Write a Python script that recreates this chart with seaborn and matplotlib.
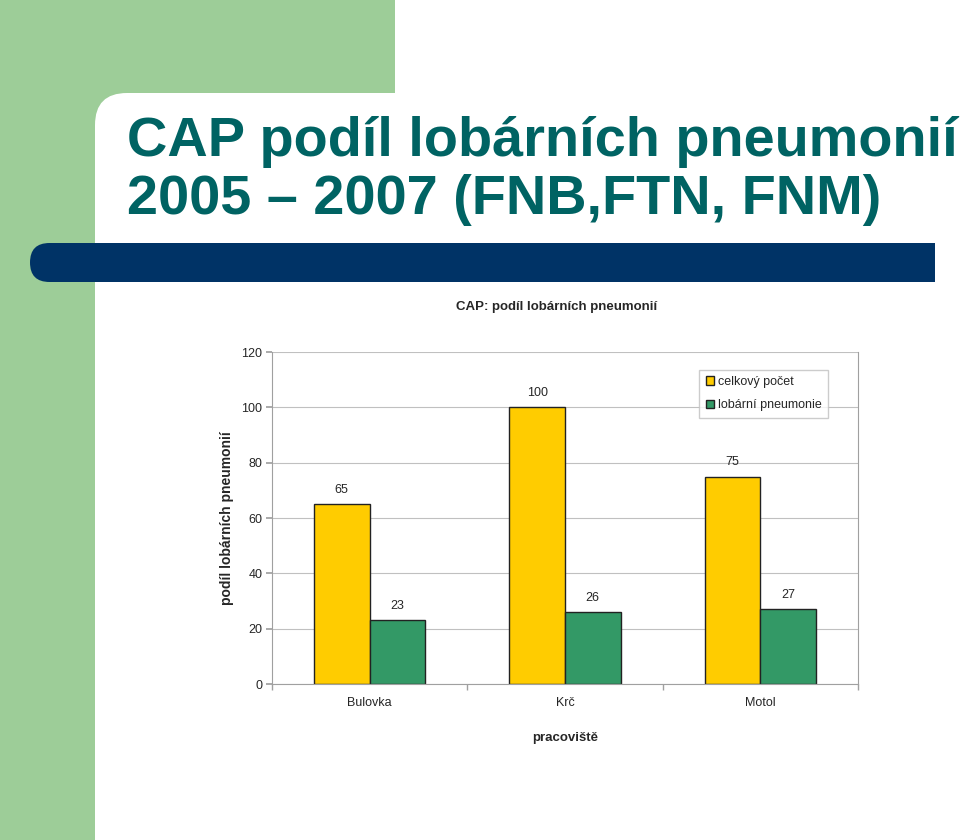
import matplotlib
matplotlib.use('Agg')
import matplotlib.pyplot as plt
from matplotlib.patches import Rectangle, FancyBboxPatch
import seaborn as sns
import pandas as pd

# data
pracoviste = ['Bulovka', 'Krč', 'Motol']
celkovy_pocet = [65, 100, 75]
lobarni = [23, 26, 27]
serie = ['celkový počet', 'lobární pneumonie']

df = pd.DataFrame({
    'pracoviště': pracoviste * 2,
    'počet': celkovy_pocet + lobarni,
    'série': [serie[0]] * 3 + [serie[1]] * 3,
})

sns.set_theme(style='white')
plt.rcParams['font.family'] = ['Liberation Sans', 'DejaVu Sans']

fig = plt.figure(figsize=(9.6, 8.4), dpi=100)

# slide background in pixel coordinates
bg = fig.add_axes([0, 0, 1, 1])
bg.set_xlim(0, 960)
bg.set_ylim(840, 0)
bg.axis('off')
green = '#9dcd98'
bg.add_patch(Rectangle((0, 0), 395, 140, color=green, lw=0))
bg.add_patch(Rectangle((0, 0), 95, 840, color=green, lw=0))
bg.add_patch(FancyBboxPatch((95, 93), 1000, 1000,
                            boxstyle='round,pad=0,rounding_size=32',
                            fc='white', ec='none'))
bg.add_patch(FancyBboxPatch((30, 243), 905, 39,
                            boxstyle='round,pad=0,rounding_size=19.5',
                            fc='#003366', ec='none'))
bg.add_patch(Rectangle((880, 243), 55, 39, color='#003366', lw=0))
bg.text(127, 156, 'CAP podíl lobárních pneumonií', fontsize=40.2,
        fontweight='bold', color='#006363', va='baseline', ha='left')
bg.text(127, 214, '2005 – 2007 (FNB,FTN, FNM)', fontsize=40.2,
        fontweight='bold', color='#006363', va='baseline', ha='left')
bg.text(557, 307, 'CAP: podíl lobárních pneumonií', fontsize=9.5,
        fontweight='bold', ha='center', va='center')

# chart
ax = fig.add_axes([0.2833, 0.1857, 0.6104, 0.3952])
sns.barplot(data=df, x='pracoviště', y='počet', hue='série',
            palette=['#ffcc00', '#339966'], saturation=1, width=0.57, gap=0,
            edgecolor='#222222', linewidth=1, ax=ax)

for c in ax.containers:
    ax.bar_label(c, padding=6, fontsize=9)

ax.set_ylim(0, 120)
ax.set_xlim(-0.5, 2.5)
ax.set_yticks(range(0, 121, 20))
ax.yaxis.grid(True, color='#c0c0c0', lw=0.8)
ax.set_axisbelow(True)
for s in ['left', 'bottom', 'right']:
    ax.spines[s].set_color('#a0a0a0')
    ax.spines[s].set_linewidth(0.8)
ax.spines['top'].set_visible(False)
ax.tick_params(axis='y', direction='out', length=4, color='#a0a0a0',
               labelsize=9, left=True, pad=3)
ax.tick_params(axis='x', which='major', length=0, labelsize=9, pad=9)
ax.set_xticks([-0.5, 0.5, 1.5, 2.5], minor=True)
ax.tick_params(axis='x', which='minor', direction='out', length=4,
               color='#a0a0a0', bottom=True)

ax.set_xlabel('pracoviště', fontsize=9.5, fontweight='bold', labelpad=17)
ax.set_ylabel('podíl lobárních pneumonií', fontsize=10, fontweight='bold',
              labelpad=5)

handles, labels = ax.get_legend_handles_labels()
ax.legend(handles, labels, loc='upper right', bbox_to_anchor=(0.949, 0.946),
          fontsize=9, frameon=True, fancybox=False, edgecolor='#c0c0c0',
          handlelength=0.7, handleheight=0.7, handletextpad=0.3,
          borderpad=0.5, labelspacing=0.9, borderaxespad=0)

fig.savefig('out.png', dpi=100)
